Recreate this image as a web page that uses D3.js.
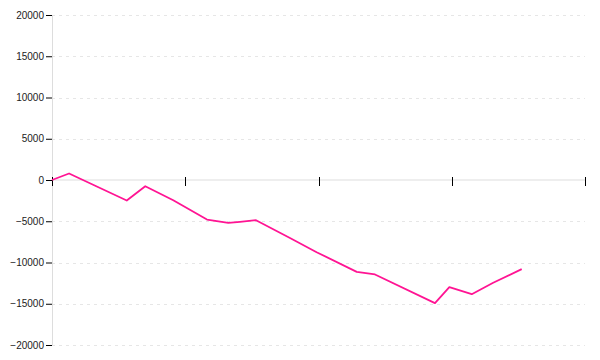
<!DOCTYPE html>
<html>
<head>
<meta charset="utf-8">
<script src="https://d3js.org/d3.v7.min.js"></script>
<style>
html,body{margin:0;padding:0;background:#fff;}
svg{display:block;}
</style>
</head>
<body>
<svg id="chart" width="600" height="360"></svg>
<script>
// Data (x in axis units, one unit per x tick interval)
const xValues = [0, 0.128, 0.561, 0.700, 0.910, 1.163, 1.323, 1.411, 1.531, 1.786, 1.986, 2.287, 2.424, 2.874, 2.982, 3.150, 3.311, 3.525];
const yValues = [0, 790, -2490, -750, -2450, -4790, -5190, -5070, -4870, -7030, -8750, -11130, -11450, -14930, -12990, -13840, -12460, -10810];
const xTicks = [0, 1, 2, 3, 4];
const yTicks = [-20000, -15000, -10000, -5000, 0, 5000, 10000, 15000, 20000];

const margin = {top: 15, right: 15, bottom: 15, left: 52};
const W = 600, H = 360;
const svg = d3.select("#chart");
const g = svg.append("g").attr("transform", `translate(${margin.left},${margin.top})`);
const iw = W - margin.left - margin.right;
const ih = H - margin.top - margin.bottom;

const x = d3.scaleLinear().domain([0, 4]).range([0, iw]);
const y = d3.scaleLinear().domain([-20000, 20000]).range([ih, 0]);

// gridlines
g.append("g").selectAll("line").data(yTicks.filter(d => d !== 0)).join("line")
  .attr("x1", 0).attr("x2", iw)
  .attr("y1", d => Math.round(y(d)) + 0.5).attr("y2", d => Math.round(y(d)) + 0.5)
  .attr("stroke", "#e6e6e6").attr("stroke-width", 1).attr("stroke-dasharray", "3,4");

// y axis
const yAxis = g.append("g").call(d3.axisLeft(y).tickValues(yTicks).tickFormat(d3.format("d")).tickSize(6).tickPadding(2));
yAxis.select(".domain").remove();
yAxis.append("line").attr("x1", 0.5).attr("x2", 0.5).attr("y1", 0).attr("y2", ih).attr("stroke", "#ddd");
yAxis.selectAll(".tick line").attr("stroke", "#000");
yAxis.selectAll(".tick text").attr("fill", "#222").style("font-family", "'Liberation Sans', Arial, sans-serif").style("font-size", "10px");

// x axis at zero
const x0 = y(0);
const xAxis = g.append("g").attr("transform", `translate(0,${x0})`);
xAxis.append("line").attr("x1", 0).attr("x2", iw).attr("y1", 0).attr("y2", 0).attr("stroke", "#ddd");
xAxis.selectAll("line.tk").data(xTicks).join("line").attr("class", "tk")
  .attr("x1", d => Math.round(x(d)) + 0.5).attr("x2", d => Math.round(x(d)) + 0.5)
  .attr("y1", -3).attr("y2", 6).attr("stroke", "#000");

// line
const pts = xValues.map((d, i) => [d, yValues[i]]);
g.append("path").datum(pts)
  .attr("fill", "none").attr("stroke", "#ff1493").attr("stroke-width", 1.8)
  .attr("stroke-linejoin", "round")
  .attr("d", d3.line().x(d => x(d[0])).y(d => y(d[1])));
</script>
</body>
</html>
